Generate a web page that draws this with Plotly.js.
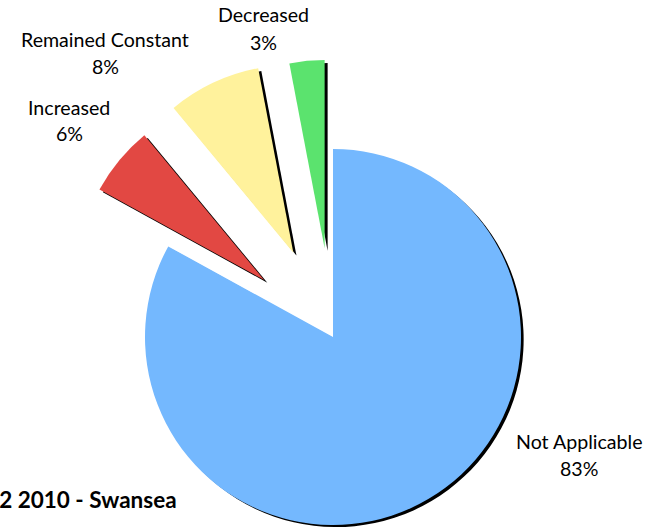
<!DOCTYPE html>
<html>
<head>
<meta charset="utf-8">
<script src="https://cdn.plot.ly/plotly-3.0.1.min.js"></script>
<style>
html, body { margin: 0; padding: 0; overflow: hidden; background: #fff; }
#chart { width: 662px; height: 620px; }
</style>
</head>
<body>
<div id="chart"></div>
<script>
// ---- data ----
var categories = ["Not Applicable", "Increased", "Remained Constant", "Decreased"];
var values = [83, 6, 8, 3];
var sliceColors = ["#74B8FE", "#E24843", "#FFF29C", "#5BE36E"];
var pulls = [0, 0.475, 0.495, 0.475];
var chartTitle = "Q2 2010 - Swansea";

// ---- layout helpers ----
var W = 662, H = 620;
var cx = 333, cy = 337, R = 188;
var maxPull = Math.max.apply(null, pulls);
var half = R * (1 + maxPull);
function dom(ox, oy) {
  return {
    x: [(cx + ox - half) / W, (cx + ox + half) / W],
    y: [1 - (cy + oy + half) / H, 1 - (cy + oy - half) / H]
  };
}

var shadow = {
  type: "pie",
  labels: categories,
  values: values,
  pull: pulls,
  sort: false,
  direction: "clockwise",
  rotation: 0,
  marker: { colors: categories.map(function () { return "#000"; }), line: { width: 0 } },
  textinfo: "none",
  hoverinfo: "skip",
  showlegend: false,
  domain: dom(3, 3)
};

var pie = {
  type: "pie",
  labels: categories,
  values: values,
  pull: pulls,
  sort: false,
  direction: "clockwise",
  rotation: 0,
  marker: { colors: sliceColors, line: { width: 0 } },
  textinfo: "none",
  showlegend: false,
  domain: dom(0, 0)
};

// label anchor positions (pixel centres of the two text lines)
var labelPos = [
  [579, 441, 468],
  [69, 107, 134],
  [105, 40, 67],
  [263, 15, 43]
];
var font = { family: "Lato, 'Open Sans', sans-serif", size: 19.6, color: "#000" };
var annotations = [];
var total = values.reduce(function (a, b) { return a + b; }, 0);
categories.forEach(function (c, i) {
  var p = labelPos[i];
  annotations.push({ xref: "paper", yref: "paper", x: p[0] / W, y: 1 - p[1] / H,
    text: c, showarrow: false, xanchor: "center", yanchor: "middle", font: font });
  annotations.push({ xref: "paper", yref: "paper", x: p[0] / W, y: 1 - p[2] / H,
    text: Math.round(values[i] / total * 100) + "%", showarrow: false,
    xanchor: "center", yanchor: "middle", font: font });
});
annotations.push({ xref: "paper", yref: "paper", x: 179 / W, y: 1 - 499 / H,
  text: "<b>" + chartTitle + "</b>", showarrow: false, xanchor: "right", yanchor: "middle",
  font: { family: "Lato, 'Open Sans', sans-serif", size: 22.5, color: "#000" } });

var layout = {
  width: W, height: H,
  margin: { l: 0, r: 0, t: 0, b: 0 },
  paper_bgcolor: "#fff",
  showlegend: false,
  annotations: annotations
};

Plotly.newPlot("chart", [shadow, pie], layout, { displayModeBar: false, staticPlot: true });
</script>
</body>
</html>
